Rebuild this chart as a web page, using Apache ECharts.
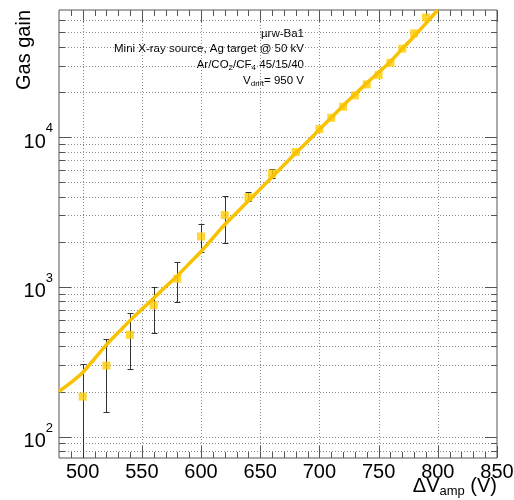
<!DOCTYPE html>
<html><head><meta charset="utf-8">
<script src="https://cdn.jsdelivr.net/npm/echarts/dist/echarts.min.js"></script>
<style>html,body{margin:0;padding:0;background:#fff}#c{width:514px;height:500px}</style>
</head><body><div id="c"></div>
<script>
// ---- data ----
const voltages = [500,520,540,560,580,600,620,640,660,680,700,710,720,730,740,750,760,770,780,790];
const gains    = [185,298,478,755,1133,2168,3013,3975,5710,7940,11300,13450,15930,18960,22460,25900,31300,38900,49200,62800];
const errLow   = [50,145,283,491,790,1715,1968,3715,5320,7940,11300,13450,15930,18960,22460,25900,31300,38900,49200,62800];
const errHigh  = [305,448,667,1000,1462,2625,4010,4270,6110,7940,11300,13450,15930,18960,22460,25900,31300,38900,49200,62800];
const fitVoltages = [480,490,500,510,520,530,540,550,560,570,580,590,600,610,620,630,640,650,660,670,680,690,700,710,720,730,740,750,760,770,780,790,800];
const fitGains    = [200,229,268,331,410,495,596,708,841,1000,1186,1429,1722,2118,2606,3126,3750,4498,5408,6501,7816,9354,11246,13490,16180,19280,22910,27040,31990,38820,47100,57540,70470];
const xTickLabels = [500,550,600,650,700,750,800,850];
const xMinorTicks = [490,510,520,530,540,560,570,580,590,610,620,630,640,660,670,680,690,710,720,730,740,760,770,780,790,810,820,830,840];
const yMajorTicks = [100,1000,10000];
const yMinorTicks = [80,90,200,300,400,500,600,700,800,900,2000,3000,4000,5000,6000,7000,8000,9000,20000,30000,40000,50000,60000];
const xRange = [480, 850];
const yRange = [72, 70500];
const infoLines = ['{t|\u00b5rw-Ba1}', '{t|Mini X-ray source, Ag target @ 50 kV}', '{t|Ar/CO}{s|2}{t|/CF}{s|4}{t| 45/15/40}', '{t|V}{s|drift}{t|= 950 V}'];

// ---- chart ----
const FONT = '"Liberation Sans", Arial, Helvetica, sans-serif';
const FRAME = '#555';
const GRIDC = '#8c8c8c';
const chart = echarts.init(document.getElementById('c'), null, {renderer: 'canvas'});

function px(v) { return Math.round(v) + 0.5; }

function xTickRender(isMajor) {
  return function (params, api) {
    const cs = params.coordSys;
    const x = px(api.coord([api.value(0), api.value(1)])[0]);
    const top = cs.y, bot = cs.y + cs.height;
    const L = isMajor ? 12 : 6;
    const ch = [];
    if (isMajor && x > cs.x + 2 && x < cs.x + cs.width - 2) {
      ch.push({type: 'line', shape: {x1: x, y1: top, x2: x, y2: bot}, style: {stroke: GRIDC, lineWidth: 1, lineDash: [1, 2]}});
    }
    ch.push({type: 'line', shape: {x1: x, y1: bot, x2: x, y2: bot - L}, style: {stroke: FRAME, lineWidth: 1}});
    ch.push({type: 'line', shape: {x1: x, y1: top, x2: x, y2: top + L}, style: {stroke: FRAME, lineWidth: 1}});
    return {type: 'group', children: ch};
  };
}
function yTickRender(isMajor) {
  return function (params, api) {
    const cs = params.coordSys;
    const y = px(api.coord([api.value(0), api.value(1)])[1]);
    const l = cs.x, r = cs.x + cs.width;
    const L = isMajor ? 12 : 6;
    const ch = [];
    ch.push({type: 'line', shape: {x1: l, y1: y, x2: r, y2: y}, style: {stroke: GRIDC, lineWidth: 1, lineDash: [1, 2]}});
    ch.push({type: 'line', shape: {x1: l, y1: y, x2: l + L, y2: y}, style: {stroke: FRAME, lineWidth: 1}});
    ch.push({type: 'line', shape: {x1: r, y1: y, x2: r - L, y2: y}, style: {stroke: FRAME, lineWidth: 1}});
    return {type: 'group', children: ch};
  };
}
function errRender(params, api) {
  const cs = params.coordSys;
  const xv = api.value(0), lo = api.value(1), hi = api.value(2);
  if (!(hi > lo)) return null;
  const x = px(api.coord([xv, lo])[0]);
  const yTop = cs.y, yBot = cs.y + cs.height;
  const clamp = y => Math.min(Math.max(y, yTop), yBot);
  const yl = api.coord([xv, lo])[1], yh = api.coord([xv, hi])[1];
  const ch = [{type: 'line', shape: {x1: x, y1: clamp(yl), x2: x, y2: clamp(yh)}, style: {stroke: '#333', lineWidth: 1}}];
  if (yl <= yBot) ch.push({type: 'line', shape: {x1: x - 3, y1: px(yl), x2: x + 3, y2: px(yl)}, style: {stroke: '#333', lineWidth: 1}});
  if (yh >= yTop) ch.push({type: 'line', shape: {x1: x - 3, y1: px(yh), x2: x + 3, y2: px(yh)}, style: {stroke: '#333', lineWidth: 1}});
  return {type: 'group', children: ch};
}

const option = {
  animation: false,
  backgroundColor: '#fff',
  grid: {left: 59, right: 17, top: 10, bottom: 42, show: true, borderColor: FRAME, borderWidth: 1, backgroundColor: 'transparent', containLabel: false, outerBoundsMode: 'none'},
  xAxis: {
    type: 'value', min: xRange[0], max: xRange[1],
    axisLine: {show: false}, axisTick: {show: false}, splitLine: {show: false},
    axisLabel: {customValues: xTickLabels, color: '#000', fontFamily: FONT, fontSize: 20, margin: 4}
  },
  yAxis: {
    type: 'log', logBase: 10, min: yRange[0], max: yRange[1],
    axisLine: {show: false}, axisTick: {show: false}, splitLine: {show: false},
    axisLabel: {
      margin: 6, color: '#000',
      formatter: function (v) {
        const lg = Math.log10(v); const e = Math.round(lg);
        if (Math.abs(lg - e) > 1e-6) return '';
        return '{b|10}{s|' + e + '}';
      },
      rich: {
        b: {fontFamily: FONT, fontSize: 20, lineHeight: 30, verticalAlign: 'bottom', color: '#000'},
        s: {fontFamily: FONT, fontSize: 13, lineHeight: 13, verticalAlign: 'top', color: '#000'}
      }
    }
  },
  series: [
    {type: 'custom', name: 'xmajor', silent: true, clip: false, z: 1, renderItem: xTickRender(true), encode: {x: 0, y: 1},
     data: xTickLabels.map(v => [v, yRange[0]])},
    {type: 'custom', name: 'xminor', silent: true, clip: false, z: 1, renderItem: xTickRender(false), encode: {x: 0, y: 1},
     data: xMinorTicks.map(v => [v, yRange[0]])},
    {type: 'custom', name: 'ymajor', silent: true, clip: false, z: 1, renderItem: yTickRender(true), encode: {x: 0, y: 1},
     data: yMajorTicks.map(v => [xRange[0], v])},
    {type: 'custom', name: 'yminor', silent: true, clip: false, z: 1, renderItem: yTickRender(false), encode: {x: 0, y: 1},
     data: yMinorTicks.map(v => [xRange[0], v])},
    {type: 'custom', name: 'errors', silent: true, z: 3, renderItem: errRender, encode: {x: 0, y: [1, 2]},
     data: voltages.map((v, i) => [v, errLow[i], errHigh[i]])},
    {type: 'scatter', name: 'gain', silent: true, z: 4, symbol: 'rect', symbolSize: 8,
     itemStyle: {color: '#FFCC00'}, data: voltages.map((v, i) => [v, gains[i]])},
    {type: 'line', name: 'fit', silent: true, z: 5, smooth: 0.3, showSymbol: false, symbol: 'none', clip: true,
     lineStyle: {color: '#F9C200', width: 3.5}, data: fitVoltages.map((v, i) => [v, fitGains[i]])}
  ],
  graphic: [
    {type: 'text', x: 24, y: 10, rotation: Math.PI / 2, silent: true,
     style: {text: 'Gas gain', fill: '#000', font: '20px ' + FONT, align: 'right', verticalAlign: 'middle'}},
    {type: 'text', x: 497, y: 486, silent: true,
     style: {text: '{a|\u0394V}{u|amp}{a| (V)}', align: 'right', verticalAlign: 'middle',
       rich: {a: {fontFamily: FONT, fontSize: 20, lineHeight: 24, verticalAlign: 'middle', fill: '#000'},
              u: {fontFamily: FONT, fontSize: 13, lineHeight: 13, verticalAlign: 'bottom', fill: '#000'}}}}
  ].concat(infoLines.map((t, i) => ({
    type: 'text', x: 304, y: [34, 49, 65, 81][i], silent: true,
    style: {text: t, align: 'right', verticalAlign: 'middle',
      rich: {t: {fontFamily: FONT, fontSize: 11.5, lineHeight: 13, verticalAlign: 'top', fill: '#000'},
             s: {fontFamily: FONT, fontSize: 8, lineHeight: 13, verticalAlign: 'bottom', fill: '#000'}}}
  })))
};
chart.setOption(option);
</script>
</body></html>
